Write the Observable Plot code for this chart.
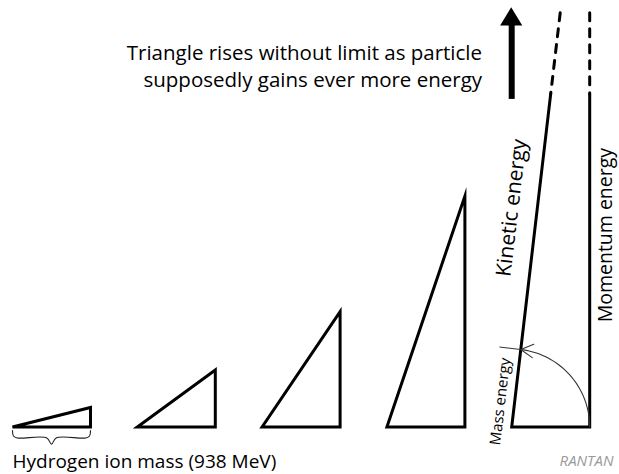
<!DOCTYPE html>
<html><head><meta charset="utf-8">
<script src="https://cdn.jsdelivr.net/npm/d3@7"></script>
<script src="https://cdn.jsdelivr.net/npm/@observablehq/plot@0.6"></script>
<style>html,body{margin:0;padding:0;background:#fff;} #chart svg{display:block;}</style>
</head><body><div id="chart"></div>
<script>
// ---- data (unit = hydrogen ion mass, 938 MeV = triangle base) ----
const triangleStarts = [0, 1.6, 3.2, 4.8];
const triangleHeights = [0.25, 0.73, 1.48, 2.96];
const lastStart = 6.4;
const hypotenuseTop = [0.5, 4.27];   // solid end of the last hypotenuse (dx, y)
const limitTopY = 5.31;              // dashed continuation top
const titleLines = ["Triangle rises without limit as particle", "supposedly gains ever more energy"];
const baseLabel = "Hydrogen ion mass (938 MeV)";
const sideLabels = ["Kinetic energy", "Momentum energy", "Mass energy"];
const logoText = "RANTAN";

// ---- derived geometry ----
const slope = hypotenuseTop[0] / hypotenuseTop[1];
const solidY = hypotenuseTop[1];
const theta = Math.atan2(hypotenuseTop[1], hypotenuseTop[0]);

const tri = triangleStarts.flatMap((x0, i) => [
  {t: i, x: x0, y: 0}, {t: i, x: x0 + 1, y: 0}, {t: i, x: x0 + 1, y: triangleHeights[i]}
]);
const lastSolid = [
  {x: lastStart + slope * solidY, y: solidY}, {x: lastStart, y: 0},
  {x: lastStart + 1, y: 0}, {x: lastStart + 1, y: solidY}
];
const lastDashed = [
  {z: "k", x: lastStart + slope * limitTopY, y: limitTopY}, {z: "k", x: lastStart + slope * solidY, y: solidY},
  {z: "m", x: lastStart + 1, y: limitTopY}, {z: "m", x: lastStart + 1, y: solidY}
];
// arc: base (mass) rotated onto the hypotenuse
const arc = d3.range(0, 41).map(k => {
  const a = theta * k / 40;
  return {x: lastStart + Math.cos(a), y: Math.sin(a)};
});
const tip = {x: lastStart + Math.cos(theta), y: Math.sin(theta)};
const tan = [-Math.sin(theta), Math.cos(theta)];
const headLen = 0.18, headAng = 0.5;
function rot(v, a) { return [v[0]*Math.cos(a) - v[1]*Math.sin(a), v[0]*Math.sin(a) + v[1]*Math.cos(a)]; }
const back = [-tan[0], -tan[1]];
const h1 = rot(back, headAng), h2 = rot(back, -headAng);
const arcHead = [
  {x: tip.x + h1[0]*headLen, y: tip.y + h1[1]*headLen}, tip,
  {x: tip.x + h2[0]*headLen, y: tip.y + h2[1]*headLen}
];
const tick = [tip, {x: tip.x + tan[0]*0.27, y: tip.y + tan[1]*0.27}];

// brace under the first triangle
const brace = [
  [0, -0.045], [0.012, -0.115], [0.06, -0.14], [0.44, -0.14], [0.5, -0.22],
  [0.56, -0.14], [0.94, -0.14], [0.988, -0.115], [1, -0.045]
].map(([x, y]) => ({x, y}));

// big upward arrow
const arrow = {x: lastStart, y0: 4.2, yHead: 5.14, yTip: 5.375, half: 0.142};
const arrowHead = [
  {x: arrow.x - arrow.half, y: arrow.yHead},
  {x: arrow.x, y: arrow.yTip},
  {x: arrow.x + arrow.half, y: arrow.yHead}
];

const font = "Open Sans";
const W = 619, H = 474;
const chart = Plot.plot({
  width: W, height: H,
  margin: 0,
  style: {background: "#fff", fontFamily: font},
  x: {domain: [-12/78, 607/78], range: [0, W], axis: null},
  y: {domain: [-47.5/78, 426.5/78], range: [H, 0], axis: null},
  marks: [
    Plot.line(tri, {x: "x", y: "y", z: "t", curve: "linear-closed", stroke: "black", strokeWidth: 3, strokeLinejoin: "miter", strokeMiterlimit: 7}),
    Plot.line(lastSolid, {x: "x", y: "y", stroke: "black", strokeWidth: 3, strokeLinejoin: "miter", strokeMiterlimit: 12}),
    Plot.line(lastDashed, {x: "x", y: "y", z: "z", stroke: "black", strokeWidth: 3, strokeDasharray: "8,8"}),
    Plot.line(arc, {x: "x", y: "y", stroke: "#333", strokeWidth: 1.1}),
    Plot.line(arcHead, {x: "x", y: "y", stroke: "#333", strokeWidth: 1.1}),
    Plot.line(tick, {x: "x", y: "y", stroke: "#333", strokeWidth: 1}),
    Plot.line(brace, {x: "x", y: "y", curve: "catmull-rom", stroke: "#222", strokeWidth: 1.1}),
    Plot.ruleX([arrow.x], {y1: arrow.y0, y2: arrow.yHead + 0.02, stroke: "black", strokeWidth: 6}),
    Plot.areaY(arrowHead, {x: "x", y1: arrow.yHead, y2: "y", fill: "black", curve: "linear"}),
    Plot.text([titleLines.join("\n")], {x: 6.02, y: (426.5 - 41) / 78, text: d => d, textAnchor: "end", lineAnchor: "top", lineHeight: 1.3, fontSize: 20.5, fontFamily: font, fill: "black"}),
    Plot.text([baseLabel], {x: 0, y: (426.5 - 454) / 78, text: d => d, textAnchor: "start", lineAnchor: "top", fontSize: 19, fontFamily: font, fill: "black"}),
    Plot.text([sideLabels[0]], {x: 6.4, y: 2.81, text: d => d, rotate: -83.3, fontSize: 21, fontFamily: font, fill: "black"}),
    Plot.text([sideLabels[1]], {x: 7.61, y: 2.46, text: d => d, rotate: -90, fontSize: 19.5, fontFamily: font, fill: "black"}),
    Plot.text([sideLabels[2]], {x: 6.256, y: 0.327, text: d => d, rotate: -83.3, fontSize: 15, fontFamily: font, fill: "black"}),
    Plot.text([logoText], {x: 7.36, y: -0.442, text: d => d, fontSize: 15, fontStyle: "italic", fontFamily: font, fill: "#9a9a9a", letterSpacing: "-0.5px"})
  ]
});
document.getElementById("chart").appendChild(chart);
</script>
</body></html>
